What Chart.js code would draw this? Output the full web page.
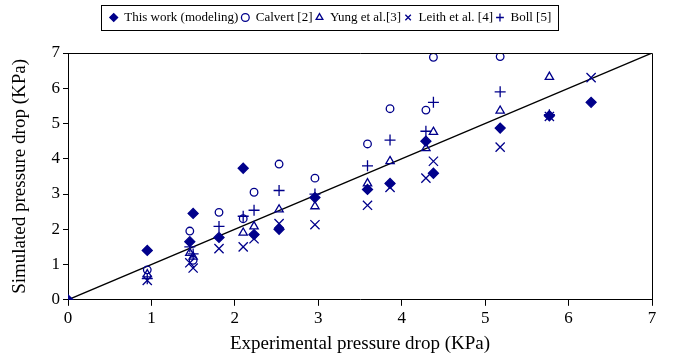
<!DOCTYPE html>
<html>
<head>
<meta charset="utf-8">
<script src="https://cdn.jsdelivr.net/npm/chart.js@4"></script>
<style>
html,body{margin:0;padding:0;background:#fff;}
#wrap{width:673px;height:359px;position:relative;}
</style>
</head>
<body>
<div id="wrap"><canvas id="c" width="673" height="359"></canvas></div>
<script>
// Experimental pressure drop values (KPa), x-axis
const expX = [0.95, 1.46, 1.5, 1.81, 2.1, 2.23, 2.53, 2.96, 3.59, 3.86, 4.29, 4.38, 5.18, 5.77, 6.27];
// Simulated / correlation values (KPa); null = not shown
const thisWork = [1.4, 1.65, 2.45, 1.77, 3.73, 1.85, 2.0, 2.9, 3.13, 3.3, 4.5, 3.59, 4.87, 5.22, 5.6];
const calvert  = [0.85, 1.95, 1.12, 2.48, 2.3, 3.05, 3.85, 3.45, 4.42, 5.42, 5.38, 6.88, 6.9, null, null];
const yung     = [0.72, 1.33, 1.22, null, 1.9, 2.08, 2.56, 2.65, 3.3, 3.93, 4.3, 4.76, 5.36, 6.32, null];
const leith    = [0.55, 1.05, 0.9, 1.45, 1.5, 1.73, 2.16, 2.13, 2.68, 3.19, 3.45, 3.93, 4.33, 5.2, 6.3];
const boll     = [0.6, 1.5, 1.3, 2.08, 2.37, 2.54, 3.1, 3.0, 3.8, 4.53, 4.78, 5.6, 5.9, 5.25, null];
const origin = [0, 0];
const seriesNames = ["This work (modeling)", "Calvert [2]", "Yung et al.[3]", "Leith et al. [4]", "Boll [5]"];
const axisTicks = [0, 1, 2, 3, 4, 5, 6, 7];
const xTitle = "Experimental pressure drop (KPa)";
const yTitle = "Simulated pressure drop (KPa)";

function pts(ys){ const out=[]; ys.forEach((y,i)=>{ if(y!==null) out.push({x:expX[i], y:y}); }); return out; }

const NAVY = '#00008B';
const FONT = "'Liberation Serif','Times New Roman',serif";

const frame = {
  id:'frame',
  afterDraw(chart){
    const {ctx, chartArea:a} = chart;
    ctx.save();
    ctx.strokeStyle='#000'; ctx.lineWidth=1;
    ctx.beginPath();
    ctx.moveTo(a.left, a.top+0.5); ctx.lineTo(a.right+0.5, a.top+0.5); ctx.lineTo(a.right+0.5, a.bottom);
    ctx.stroke();
    const lg = chart.legend;
    if (lg && lg.legendHitBoxes && lg.legendHitBoxes.length){
      let l=Infinity, r=-Infinity;
      lg.legendHitBoxes.forEach(h=>{ l=Math.min(l,h.left); r=Math.max(r,h.left+h.width); });
      ctx.strokeRect(Math.round(l-9)+0.5, 5.5, Math.round(r-l+15), 25);
    }
    ctx.restore();
  }
};
const legendHeight = {
  id:'legendHeight',
  beforeInit(chart){
    const fit = chart.legend.fit;
    chart.legend.fit = function(){ fit.bind(chart.legend)(); this.height = 45; };
  }
};

const markerDs = (label, data, style, radius, filled) => ({
  type:'scatter', label, data, pointStyle:style, pointRadius:radius, pointHoverRadius:radius,
  borderColor:NAVY, backgroundColor: filled?NAVY:'rgba(255,255,255,0)', pointBorderWidth:1.3, borderWidth:1.3
});

new Chart(document.getElementById('c'), {
  data:{
    datasets:[
      {type:'line', label:'_line', data:[{x:0,y:0},{x:7,y:7}], borderColor:'#000', borderWidth:1.3, pointRadius:0, fill:false, order:10},
      markerDs(seriesNames[0], [{x:origin[0], y:origin[1]}].concat(pts(thisWork)), 'rectRot', 5, true),
      markerDs(seriesNames[1], pts(calvert), 'circle', 3.8, false),
      markerDs(seriesNames[2], pts(yung), 'triangle', 4.8, false),
      markerDs(seriesNames[3], pts(leith), 'crossRot', 6.5, false),
      markerDs(seriesNames[4], pts(boll), 'cross', 5.5, false)
    ]
  },
  options:{
    responsive:false, animation:false,
    layout:{padding:{top:8, right:21, bottom:4, left:9}},
    plugins:{
      legend:{
        position:'top',
        labels:{
          usePointStyle:true, boxHeight:5.5, boxWidth:8, padding:3,
          color:'#000', font:{family:FONT, size:13},
          filter:(item)=>item.text!=='_line'
        }
      },
      tooltip:{enabled:false}
    },
    scales:{
      x:{
        type:'linear', min:0, max:7,
        afterBuildTicks(s){ s.ticks = axisTicks.map(v=>({value:v})); },
        ticks:{color:'#000', font:{family:FONT, size:17}, padding:3},
        grid:{display:true, drawOnChartArea:false, drawTicks:true, tickLength:6, color:'#000'},
        border:{color:'#000', width:1},
        title:{display:true, text:xTitle, color:'#000', font:{family:FONT, size:19}, padding:{top:0,bottom:0}}
      },
      y:{
        type:'linear', min:0, max:7,
        afterBuildTicks(s){ s.ticks = axisTicks.map(v=>({value:v})); },
        afterFit(s){ s.width = 59; },
        ticks:{color:'#000', font:{family:FONT, size:17}, padding:3},
        grid:{display:true, drawOnChartArea:false, drawTicks:true, tickLength:5, color:'#000'},
        border:{color:'#000', width:1},
        title:{display:true, text:yTitle, color:'#000', font:{family:FONT, size:19}, padding:{top:0,bottom:4}}
      }
    }
  },
  plugins:[frame, legendHeight]
});
</script>
</body>
</html>
